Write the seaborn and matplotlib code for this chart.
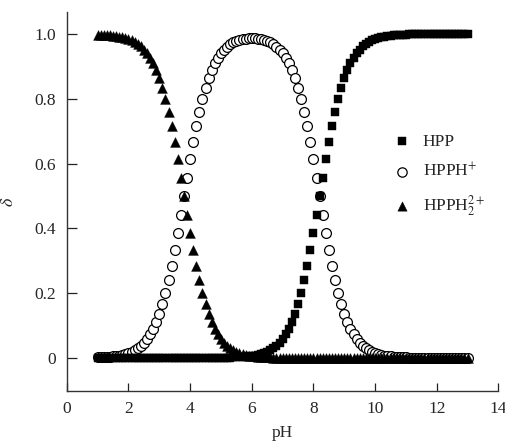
import numpy as np
import pandas as pd
import seaborn as sns
import matplotlib
matplotlib.use("Agg")
import matplotlib.pyplot as plt

# pH grid (1.0 .. 13.0, one point every 0.1)
ph = [1.0, 1.1, 1.2, 1.3, 1.4, 1.5, 1.6, 1.7, 1.8, 1.9,
      2.0, 2.1, 2.2, 2.3, 2.4, 2.5, 2.6, 2.7, 2.8, 2.9,
      3.0, 3.1, 3.2, 3.3, 3.4, 3.5, 3.6, 3.7, 3.8, 3.9,
      4.0, 4.1, 4.2, 4.3, 4.4, 4.5, 4.6, 4.7, 4.8, 4.9,
      5.0, 5.1, 5.2, 5.3, 5.4, 5.5, 5.6, 5.7, 5.8, 5.9,
      6.0, 6.1, 6.2, 6.3, 6.4, 6.5, 6.6, 6.7, 6.8, 6.9,
      7.0, 7.1, 7.2, 7.3, 7.4, 7.5, 7.6, 7.7, 7.8, 7.9,
      8.0, 8.1, 8.2, 8.3, 8.4, 8.5, 8.6, 8.7, 8.8, 8.9,
      9.0, 9.1, 9.2, 9.3, 9.4, 9.5, 9.6, 9.7, 9.8, 9.9,
      10.0, 10.1, 10.2, 10.3, 10.4, 10.5, 10.6, 10.7, 10.8, 10.9,
      11.0, 11.1, 11.2, 11.3, 11.4, 11.5, 11.6, 11.7, 11.8, 11.9,
      12.0, 12.1, 12.2, 12.3, 12.4, 12.5, 12.6, 12.7, 12.8, 12.9,
      13.0]

# HPP (squares)
hpp = [0.000, 0.000, 0.000, 0.000, 0.000, 0.000, 0.000, 0.000, 0.000, 0.000,
       0.000, 0.000, 0.000, 0.000, 0.000, 0.000, 0.000, 0.000, 0.000, 0.000,
       0.000, 0.000, 0.000, 0.000, 0.000, 0.000, 0.000, 0.000, 0.000, 0.000,
       0.000, 0.000, 0.000, 0.000, 0.000, 0.000, 0.000, 0.000, 0.000, 0.000,
       0.001, 0.001, 0.001, 0.001, 0.002, 0.002, 0.002, 0.003, 0.004, 0.005,
       0.006, 0.008, 0.010, 0.012, 0.016, 0.020, 0.024, 0.031, 0.038, 0.048,
       0.059, 0.074, 0.091, 0.112, 0.137, 0.166, 0.201, 0.240, 0.285, 0.334,
       0.387, 0.443, 0.500, 0.557, 0.613, 0.666, 0.715, 0.760, 0.799, 0.834,
       0.863, 0.888, 0.909, 0.926, 0.941, 0.952, 0.962, 0.969, 0.976, 0.980,
       0.984, 0.988, 0.990, 0.992, 0.994, 0.995, 0.996, 0.997, 0.997, 0.998,
       0.998, 0.999, 0.999, 0.999, 0.999, 1.000, 1.000, 1.000, 1.000, 1.000,
       1.000, 1.000, 1.000, 1.000, 1.000, 1.000, 1.000, 1.000, 1.000, 1.000,
       1.000]

# HPPH+ (open circles)
hpph = [0.002, 0.002, 0.003, 0.003, 0.004, 0.005, 0.006, 0.008, 0.010, 0.012,
        0.016, 0.020, 0.024, 0.031, 0.038, 0.048, 0.059, 0.074, 0.091, 0.112,
        0.137, 0.166, 0.201, 0.240, 0.285, 0.334, 0.387, 0.443, 0.500, 0.557,
        0.613, 0.666, 0.715, 0.760, 0.799, 0.834, 0.863, 0.888, 0.909, 0.926,
        0.940, 0.952, 0.961, 0.968, 0.974, 0.978, 0.982, 0.984, 0.986, 0.987,
        0.988, 0.987, 0.986, 0.984, 0.982, 0.978, 0.974, 0.968, 0.961, 0.952,
        0.940, 0.926, 0.909, 0.888, 0.863, 0.834, 0.799, 0.760, 0.715, 0.666,
        0.613, 0.557, 0.500, 0.443, 0.387, 0.334, 0.285, 0.240, 0.201, 0.166,
        0.137, 0.112, 0.091, 0.074, 0.059, 0.048, 0.038, 0.031, 0.024, 0.020,
        0.016, 0.012, 0.010, 0.008, 0.006, 0.005, 0.004, 0.003, 0.003, 0.002,
        0.002, 0.001, 0.001, 0.001, 0.000, 0.000, 0.000, 0.000, 0.000, 0.000,
        0.000, 0.000, 0.000, 0.000, 0.000, 0.000, 0.000, 0.000, 0.000, 0.000,
        0.000]

# HPPH2 2+ (filled triangles)
hpph2 = [0.998, 0.998, 0.997, 0.997, 0.996, 0.995, 0.994, 0.992, 0.990, 0.988,
         0.984, 0.980, 0.976, 0.969, 0.962, 0.952, 0.941, 0.926, 0.909, 0.888,
         0.863, 0.834, 0.799, 0.760, 0.715, 0.666, 0.613, 0.557, 0.500, 0.443,
         0.387, 0.334, 0.285, 0.240, 0.201, 0.166, 0.137, 0.112, 0.091, 0.074,
         0.059, 0.048, 0.038, 0.031, 0.025, 0.020, 0.016, 0.012, 0.010, 0.008,
         0.006, 0.005, 0.004, 0.003, 0.002, 0.002, 0.002, 0.001, 0.001, 0.001,
         0.001, 0.000, 0.000, 0.000, 0.000, 0.000, 0.000, 0.000, 0.000, 0.000,
         0.000, 0.000, 0.000, 0.000, 0.000, 0.000, 0.000, 0.000, 0.000, 0.000,
         0.000, 0.000, 0.000, 0.000, 0.000, 0.000, 0.000, 0.000, 0.000, 0.000,
         0.000, 0.000, 0.000, 0.000, 0.000, 0.000, 0.000, 0.000, 0.000, 0.000,
         0.000, 0.000, 0.000, 0.000, 0.000, 0.000, 0.000, 0.000, 0.000, 0.000,
         0.000, 0.000, 0.000, 0.000, 0.000, 0.000, 0.000, 0.000, 0.000, 0.000,
         0.000]

df = pd.DataFrame({"pH": ph, "HPP": hpp, "HPPH": hpph, "HPPH2": hpph2})

sns.set_style("ticks")
plt.rcParams["font.family"] = ["Liberation Serif", "DejaVu Serif"]
plt.rcParams["mathtext.fontset"] = "stix"

fig = plt.figure(figsize=(5.06, 4.42), dpi=100)
ax = fig.add_axes([0.132, 0.115, 0.853, 0.858])

sns.scatterplot(data=df, x="pH", y="HPPH", marker="o", s=50, color="white",
                edgecolor="black", linewidth=0.9, ax=ax, label=r"HPPH$^{+}$", zorder=2)
sns.scatterplot(data=df, x="pH", y="HPPH2", marker="^", s=50, color="black",
                edgecolor="black", linewidth=0.3, ax=ax, label=r"HPPH$_2^{2+}$", zorder=3)
sns.scatterplot(data=df, x="pH", y="HPP", marker="s", s=38, color="black",
                edgecolor="black", linewidth=0.3, ax=ax, label="HPP", zorder=4)

ax.set_xlim(0, 14)
ax.set_ylim(-0.102, 1.068)
ax.set_xticks(range(0, 15, 2))
ax.set_yticks([0, 0.2, 0.4, 0.6, 0.8, 1.0])
ax.set_yticklabels(["0", "0.2", "0.4", "0.6", "0.8", "1.0"])
ax.tick_params(axis="both", direction="in", labelsize=12.5, width=0.9, color="#222222")
ax.tick_params(axis="y", length=7, pad=8)
ax.tick_params(axis="x", length=6, pad=7)
sns.despine(ax=ax)
for sp in ["left", "bottom"]:
    ax.spines[sp].set_linewidth(1.0)
    ax.spines[sp].set_color("#333333")

ax.set_xlabel("pH", fontsize=12.5, labelpad=6)
ax.set_ylabel(r"$\delta$", fontsize=13, labelpad=12)

handles, labels = ax.get_legend_handles_labels()
order = [2, 0, 1]
ax.legend([handles[i] for i in order], [labels[i] for i in order],
          loc="upper left", bbox_to_anchor=(0.70, 0.72), frameon=False,
          fontsize=12.5, labelspacing=0.7, handletextpad=0.2, markerscale=0.95)

fig.savefig("out.png", dpi=100)
